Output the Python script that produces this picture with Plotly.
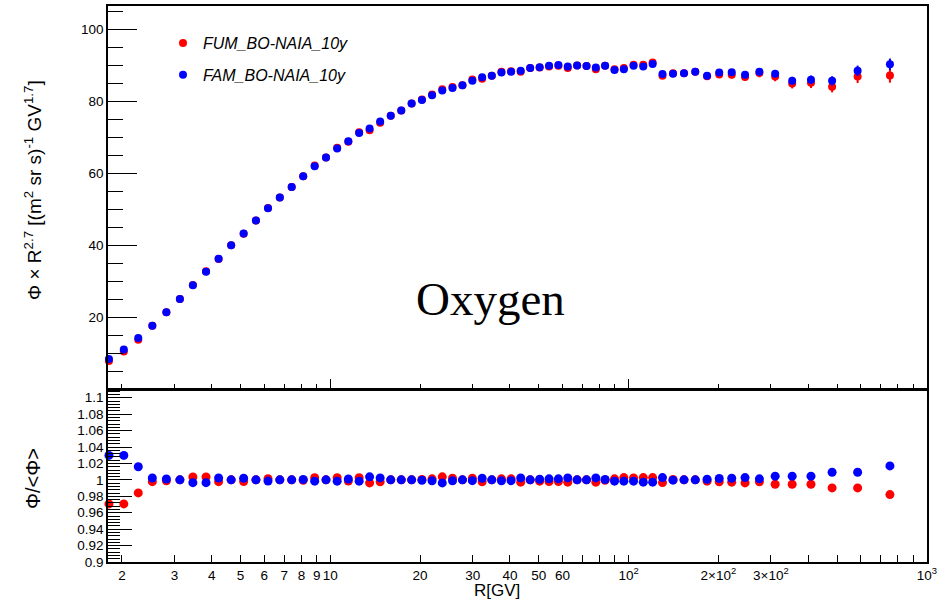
import plotly.graph_objects as go
import numpy as np

# ---------------- data ----------------
rigidity = [1.81, 2.03, 2.27, 2.53, 2.82, 3.13, 3.46, 3.83, 4.22, 4.65, 5.12, 5.63, 6.18, 6.77,
            7.42, 8.11, 8.86, 9.67, 10.54, 11.49, 12.49, 13.54, 14.69, 15.94, 17.29, 18.73,
            20.28, 21.93, 23.73, 25.68, 27.73, 29.93, 32.28, 34.78, 37.47, 40.37, 43.47, 46.77,
            50.32, 54.11, 58.16, 62.51, 67.2, 72.25, 77.65, 83.4, 89.7, 96.4, 103.9, 112.0,
            120.4, 129.9, 140.9, 153.4, 167.3, 183.3, 201.3, 221.7, 245.7, 274.5, 310.0,
            353.6, 408.8, 481.2, 586.0, 752.0]

flux_fum = [7.8, 10.4, 13.7, 17.6, 21.3, 25.0, 28.9, 32.7, 36.1, 39.9, 43.1, 46.8, 50.3, 53.2,
            56.1, 59.1, 62.1, 64.3, 67.0, 68.7, 71.3, 71.9, 74.0, 75.9, 77.4, 79.3, 80.4, 81.8,
            83.3, 83.9, 84.4, 86.0, 86.2, 87.0, 88.1, 88.3, 88.1, 89.2, 89.3, 89.6, 89.8, 89.2,
            89.9, 89.7, 88.8, 89.8, 88.8, 89.2, 90.1, 90.1, 90.7, 87.0, 87.7, 87.7, 88.1, 86.9,
            87.4, 87.3, 86.7, 87.8, 86.8, 84.9, 85.1, 84.0, 86.8, 87.1]

flux_fam = [8.3, 11.0, 14.2, 17.6, 21.3, 25.0, 28.8, 32.6, 36.2, 39.9, 43.2, 46.8, 50.2, 53.2,
            56.1, 59.1, 61.9, 64.3, 66.8, 68.8, 71.1, 72.4, 74.3, 75.9, 77.4, 79.3, 80.3, 81.6,
            82.9, 83.6, 84.4, 85.6, 86.6, 87.0, 87.9, 88.1, 88.4, 89.2, 89.4, 89.8, 90.0, 89.6,
            89.9, 89.7, 89.3, 89.8, 88.6, 88.8, 89.8, 89.6, 90.3, 87.5, 87.6, 87.7, 88.1, 87.0,
            87.9, 88.0, 87.3, 88.1, 87.6, 85.6, 85.9, 85.6, 88.4, 90.2]

flux_err = [0.1, 0.1, 0.1, 0.1, 0.1, 0.1, 0.1, 0.1, 0.1, 0.1, 0.1, 0.1, 0.1, 0.1, 0.1, 0.1,
            0.1, 0.1, 0.1, 0.1, 0.1, 0.2, 0.2, 0.2, 0.2, 0.2, 0.2, 0.2, 0.2, 0.2, 0.2, 0.2,
            0.3, 0.3, 0.3, 0.3, 0.3, 0.3, 0.3, 0.3, 0.4, 0.4, 0.4, 0.4, 0.4, 0.4, 0.5, 0.5,
            0.5, 0.6, 0.6, 0.7, 0.7, 0.7, 0.8, 0.8, 0.9, 1.0, 1.1, 1.2, 1.3, 1.4, 1.5, 1.6,
            1.8, 2.0]

ratio_fum = [0.9707, 0.9707, 0.9841, 0.9978, 0.9988, 1.0, 1.0035, 1.0035, 0.9978, 1.0, 0.998,
             1.0, 1.0015, 1.0, 1.0, 0.9995, 1.0026, 1.0, 1.0026, 0.9985, 1.0026, 0.9963, 0.9976,
             1.0, 1.0, 1.0, 1.0005, 1.0012, 1.0037, 1.002, 1.0, 1.002, 0.9976, 1.0, 1.0012,
             1.0012, 0.9972, 1.0, 0.9984, 0.998, 0.998, 0.9972, 1.0, 1.0, 0.9972, 0.9995,
             1.0012, 1.0028, 1.0024, 1.0028, 1.0028, 0.9967, 1.0004, 1.0, 1.0, 0.9984, 0.9976,
             0.9972, 0.9963, 0.9976, 0.9947, 0.9947, 0.9947, 0.9902, 0.9902, 0.9821]

ratio_fam = [1.0298, 1.0298, 1.0159, 1.0022, 1.001, 1.0, 0.9966, 0.9966, 1.0022, 1.0, 1.002,
             1.0, 0.9985, 1.0, 1.0, 1.0005, 0.9984, 1.0, 0.9984, 1.001, 0.9984, 1.0037, 1.0024,
             1.0, 1.0, 1.0, 0.9995, 0.9988, 0.9963, 0.9988, 1.0, 0.999, 1.002, 1.0, 0.9988,
             0.999, 1.0024, 1.0, 1.0008, 1.0012, 1.0012, 1.0024, 1.0, 1.0, 1.0024, 1.0005,
             0.9984, 0.9984, 0.9984, 0.9972, 0.9972, 1.0028, 0.9996, 1.0, 1.0, 1.0008, 1.0016,
             1.002, 1.0028, 1.0012, 1.0045, 1.0045, 1.0045, 1.0093, 1.0093, 1.017]

series_names = ["FUM_BO-NAIA_10y", "FAM_BO-NAIA_10y"]
x_tick_vals = [2, 3, 4, 5, 6, 7, 8, 9, 10, 20, 30, 40, 50, 60, 100, 200, 300, 1000]
x_tick_text = ["2", "3", "4", "5", "6", "7", "8", "9", "10", "20", "30", "40", "50", "60",
               "10<sup>2</sup>", "2×10<sup>2</sup>", "3×10<sup>2</sup>", "10<sup>3</sup>"]
x_minor_unlabeled = [70, 80, 90, 400, 500, 600, 700, 800, 900]
y_top_ticks = [20, 40, 60, 80, 100]
y_bot_ticks = [0.9, 0.92, 0.94, 0.96, 0.98, 1.0, 1.02, 1.04, 1.06, 1.08, 1.1]
y_bot_text = ["0.9", "0.92", "0.94", "0.96", "0.98", "1", "1.02", "1.04", "1.06", "1.08", "1.1"]

# ---------------- figure ----------------
W, H = 938, 599
ML, MR, MT, MB = 108, 11, 6, 37
plot_h = H - MT - MB

def py(px):  # pixel y -> paper
    return (H - MB - px) / plot_h

def px_(p):  # pixel x -> paper
    return (p - ML) / (W - ML - MR)

RED = "#ff0000"
BLUE = "#0000ff"
FONT = "Liberation Sans, Arial, Helvetica, sans-serif"

fig = go.Figure()

fig.add_trace(go.Scatter(x=rigidity, y=flux_fum, mode="markers", name=series_names[0],
                         marker=dict(color=RED, size=8), cliponaxis=False,
                         error_y=dict(type="data", array=flux_err, color=RED, thickness=2, width=0),
                         legendgroup="a", xaxis="x", yaxis="y"))
fig.add_trace(go.Scatter(x=rigidity, y=flux_fam, mode="markers", name=series_names[1],
                         marker=dict(color=BLUE, size=8), cliponaxis=False,
                         error_y=dict(type="data", array=[e * 0.8 for e in flux_err], color=BLUE,
                                      thickness=2, width=0),
                         legendgroup="b", xaxis="x", yaxis="y"))
fig.add_trace(go.Scatter(x=rigidity, y=ratio_fum, mode="markers", showlegend=False,
                         marker=dict(color=RED, size=9), cliponaxis=False,
                         xaxis="x2", yaxis="y2"))
fig.add_trace(go.Scatter(x=rigidity, y=ratio_fam, mode="markers", showlegend=False,
                         marker=dict(color=BLUE, size=9), cliponaxis=False,
                         xaxis="x2", yaxis="y2"))

x_major_top = [10, 100, 1000]
x_minor_top = [v * d for d in (1, 10, 100) for v in range(2, 10)]

axis_common = dict(showline=True, linecolor="black", linewidth=1.5, mirror=True,
                   ticks="inside", tickcolor="black", tickwidth=1.2, showgrid=False,
                   zeroline=False, automargin=False,
                   tickfont=dict(family=FONT, size=13.5, color="black"))

x_range = [0.2545, 3.0005]

fig.update_layout(
    width=W, height=H,
    margin=dict(l=ML, r=MR, t=MT, b=MB),
    paper_bgcolor="white", plot_bgcolor="white",
    xaxis=dict(type="log", range=x_range, domain=[0, 1], anchor="y",
               tickvals=x_major_top, showticklabels=False, ticklen=10,
               minor=dict(tickvals=x_minor_top, ticks="inside", ticklen=5, tickcolor="black",
                          tickwidth=1.2),
               **axis_common),
    yaxis=dict(range=[0, 106.4], domain=[py(389), 1], anchor="x",
               tickvals=y_top_ticks, ticklen=29,
               minor=dict(tickvals=[v for v in np.arange(5, 106, 5) if v % 20 != 0],
                          ticks="inside", ticklen=15, tickcolor="black", tickwidth=1.2),
               **axis_common),
    xaxis2=dict(type="log", range=x_range, domain=[0, 1], anchor="y2",
                tickvals=x_tick_vals, ticktext=x_tick_text, ticklen=7,
                minor=dict(tickvals=x_minor_unlabeled, ticks="inside", ticklen=7,
                           tickcolor="black", tickwidth=1.2),
                **axis_common),
    yaxis2=dict(range=[0.9, 1.1094], domain=[0, py(390)], anchor="x2",
                tickvals=y_bot_ticks, ticktext=y_bot_text, ticklen=24,
                minor=dict(tickvals=[round(0.9 + 0.004 * i, 4) for i in range(53) if i % 5 != 0],
                           ticks="inside", ticklen=12, tickcolor="black", tickwidth=1.2),
                **axis_common),
    legend=dict(x=px_(163), y=py(26), xanchor="left", yanchor="top",
                bgcolor="rgba(0,0,0,0)", borderwidth=0, tracegroupgap=8,
                font=dict(family=FONT, size=16, color="black", style="italic")),
    showlegend=True,
)

annotations = [
    dict(text="Φ × R<sup>2.7</sup> [(m<sup>2</sup> sr s)<sup>-1</sup> GV<sup>1.7</sup>]",
         x=px_(33), y=py(190), xref="paper", yref="paper", textangle=-90,
         showarrow=False, xanchor="center", yanchor="middle",
         font=dict(family=FONT, size=19, color="black")),
    dict(text="Φ/&lt;Φ&gt;", x=px_(33), y=py(479), xref="paper", yref="paper", textangle=-90,
         showarrow=False, xanchor="center", yanchor="middle",
         font=dict(family=FONT, size=20, color="black")),
    dict(text="R[GV]", x=px_(497), y=py(590), xref="paper", yref="paper",
         showarrow=False, xanchor="center", yanchor="middle",
         font=dict(family=FONT, size=17, color="black")),
    dict(text="Oxygen", x=px_(490), y=py(299), xref="paper", yref="paper",
         showarrow=False, xanchor="center", yanchor="middle",
         font=dict(family="Liberation Serif, Times New Roman, serif", size=47, color="black")),
]
fig.update_layout(annotations=annotations)

fig.write_html("out.html")
